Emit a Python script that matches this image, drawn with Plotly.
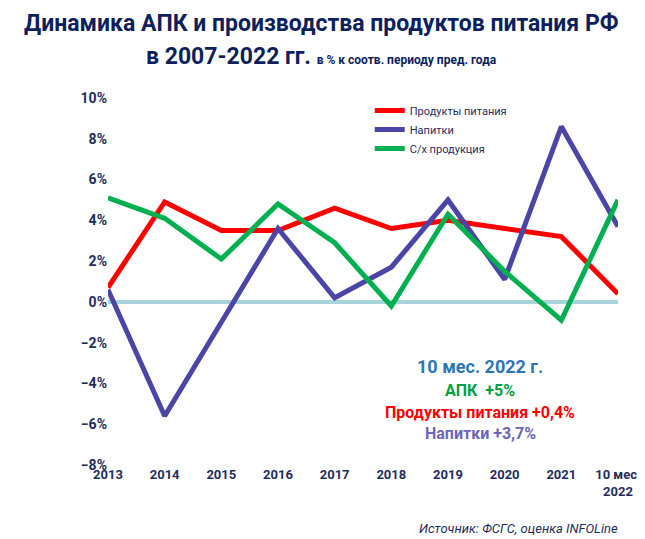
import plotly.graph_objects as go

years = ['2013', '2014', '2015', '2016', '2017', '2018', '2019', '2020', '2021', '10 мес.<br>2022']
food = [0.7, 4.9, 3.5, 3.5, 4.6, 3.6, 4.0, 3.6, 3.2, 0.4]
drinks = [0.6, -5.6, -1.0, 3.6, 0.2, 1.7, 5.0, 1.1, 8.6, 3.7]
agri = [5.1, 4.1, 2.1, 4.8, 2.9, -0.2, 4.3, 1.5, -0.9, 5.0]

FONT = 'Roboto, Arial'
NAVY = '#0d1f5c'
L, R, T, B = 100, 15, 90, 82
PW, PH = 645 - L - R, 539 - T - B


def px(x):
    return (x - L) / PW


def py(y):
    return (539 - B - y) / PH


fig = go.Figure()
fig.add_trace(go.Scatter(x=years, y=food, name='Продукты питания', mode='lines',
                         line=dict(color='#ff0000', width=5)))
fig.add_trace(go.Scatter(x=years, y=drinks, name='Напитки', mode='lines',
                         line=dict(color='#4b45a8', width=5)))
fig.add_trace(go.Scatter(x=years, y=agri, name='С/х продукция', mode='lines',
                         line=dict(color='#00b050', width=5)))
# zero line
fig.add_shape(type='line', xref='paper', yref='y', x0=0, x1=1, y0=0, y1=0,
              line=dict(color='#a9d3dc', width=4), layer='below')

notes = [('10 мес. 2022 г.', '#2e75b6', 358, 18), ('АПК  +5%', '#00a040', 382, 16),
         ('Продукты питания +0,4%', '#ff0000', 404, 16), ('Напитки +3,7%', '#6b66b8', 425, 16)]
ann = [dict(x=px(487), y=py(n[2]), xref='paper', yref='paper', text='<b>%s</b>' % n[0],
            xanchor='center', yanchor='middle', showarrow=False,
            font=dict(family=FONT, size=n[3], color=n[1])) for n in notes]
ann.append(dict(x=px(632), y=py(520), xref='paper', yref='paper', xanchor='right',
                yanchor='middle', showarrow=False,
                text='<i>Источник: ФСГС, оценка INFOLine</i>',
                font=dict(family=FONT, size=13, color='#1f2d5c')))
# title
ann.append(dict(x=px(322), y=py(16), xref='paper', yref='paper', xanchor='center',
                yanchor='middle', showarrow=False,
                text='<b>Динамика АПК и производства продуктов питания РФ</b>',
                font=dict(family=FONT, size=23, color=NAVY)))
ann.append(dict(x=px(322), y=py(48), xref='paper', yref='paper', xanchor='center',
                yanchor='middle', showarrow=False,
                text='<b>в 2007-2022 гг. <span style="font-size:12px">в % к соотв. периоду пред. года</span></b>',
                font=dict(family=FONT, size=23, color=NAVY)))

fig.update_layout(
    width=645, height=539,
    paper_bgcolor='white', plot_bgcolor='white',
    margin=dict(l=L, r=R, t=T, b=B),
    xaxis=dict(range=[0, 9], categoryorder='array', categoryarray=years,
               showgrid=False, showline=False, ticks='',
               tickfont=dict(family=FONT, size=13, color='#1f2d5c', weight='bold')),
    yaxis=dict(range=[-8, 10], dtick=2, ticksuffix='%', showgrid=False, zeroline=False,
               tickfont=dict(family=FONT, size=14, color='#1f2d5c', weight='bold')),
    legend=dict(x=px(372), y=py(88), xanchor='left', yanchor='top', bgcolor='rgba(0,0,0,0)',
                font=dict(family=FONT, size=11, color='#1f2d5c'), itemwidth=30,
                tracegroupgap=0),
    annotations=ann,
)
fig.write_html('out.html')
